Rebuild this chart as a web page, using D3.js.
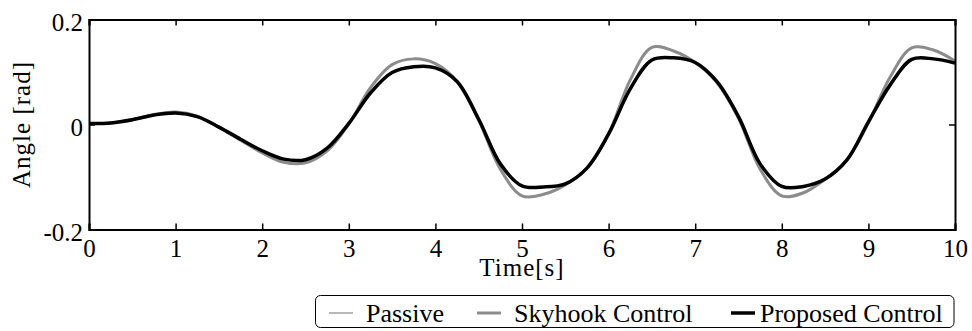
<!DOCTYPE html>
<html>
<head>
<meta charset="utf-8">
<script src="https://cdn.jsdelivr.net/npm/d3@7"></script>
<style>
  body { margin: 0; background: #fff; }
  svg text { font-family: "Liberation Serif", "Times New Roman", serif; fill: #000; }
</style>
</head>
<body>
<svg id="chart"></svg>
<script>
// time axis [s]
const time = [0, 0.25, 0.5, 0.75, 1, 1.25, 1.5, 1.75, 2, 2.25, 2.5, 2.75, 3, 3.25, 3.5, 3.75, 4,
  4.25, 4.5, 4.75, 5, 5.25, 5.5, 5.75, 6, 6.25, 6.5, 6.75, 7, 7.25, 7.5, 7.75, 8,
  8.25, 8.5, 8.75, 9, 9.25, 9.5, 9.75, 10]

// angle [rad]
const passive = [0.002, 0.003, 0.009, 0.019, 0.024, 0.016, -0.005, -0.030, -0.054, -0.072, -0.073,
  -0.050, 0.001, 0.070, 0.114, 0.125, 0.116, 0.082, 0.008, -0.085, -0.136, -0.133, -0.115,
  -0.083, -0.018, 0.085, 0.147, 0.140, 0.118, 0.080, 0.012, -0.085, -0.136, -0.130, -0.104,
  -0.068, 0.003, 0.090, 0.146, 0.142, 0.121]
const skyhook = [0.002, 0.003, 0.009, 0.019, 0.024, 0.016, -0.005, -0.030, -0.054, -0.072, -0.073,
  -0.050, 0.001, 0.070, 0.114, 0.125, 0.116, 0.082, 0.008, -0.085, -0.136, -0.133, -0.115,
  -0.083, -0.018, 0.085, 0.147, 0.140, 0.118, 0.080, 0.012, -0.085, -0.136, -0.130, -0.104,
  -0.068, 0.003, 0.090, 0.146, 0.142, 0.121]
const proposed = [0.002, 0.003, 0.009, 0.018, 0.022, 0.015, -0.005, -0.028, -0.050, -0.066, -0.067,
  -0.045, 0.002, 0.060, 0.099, 0.110, 0.108, 0.082, 0.010, -0.075, -0.117, -0.119, -0.113,
  -0.083, -0.018, 0.068, 0.123, 0.127, 0.118, 0.082, 0.015, -0.075, -0.118, -0.118, -0.104,
  -0.068, 0.005, 0.075, 0.124, 0.125, 0.117]

const xTicks = [0, 1, 2, 3, 4, 5, 6, 7, 8, 9, 10]
const yTicks = [-0.2, 0, 0.2]

const seriesNames = ['Passive', 'Skyhook Control', 'Proposed Control']
const seriesColors = ['#b8b8b8', '#8c8c8c', '#000000']
const seriesWidths = [2, 3, 3.5]

const width = 972, height = 331
const margin = { left: 89, right: 17, top: 19.5, bottom: 101.5 }
const fontSize = 25
const legendFont = 26

const svg = d3.select('#chart').attr('width', width).attr('height', height)

const x = d3.scaleLinear().domain([0, 10]).range([margin.left, width - margin.right])
const y = d3.scaleLinear().domain([-0.2, 0.2]).range([height - margin.bottom, margin.top])

const series = [passive, skyhook, proposed]

// curves
const line = d3.line()
  .x((d, i) => x(time[i]))
  .y(d => y(d))
  .curve(d3.curveCatmullRom.alpha(0.5))

const plot = svg.append('g').attr('class', 'plot')
series.forEach((s, k) => {
  plot.append('path')
    .datum(s)
    .attr('d', line)
    .attr('fill', 'none')
    .attr('stroke', seriesColors[k])
    .attr('stroke-width', seriesWidths[k])
    .attr('stroke-linejoin', 'round')
})

// axes, ticks inward on all sides
const tickLen = 6
const bottomAxis = d3.axisBottom(x).tickValues(xTicks).tickSize(-tickLen).tickPadding(9.5)
  .tickFormat(d3.format('d'))
const topAxis = d3.axisTop(x).tickValues(xTicks).tickSize(-tickLen).tickFormat('')
const leftAxis = d3.axisLeft(y).tickValues(yTicks).tickSize(-tickLen).tickPadding(6)
  .tickFormat(d => d === 0 ? '0' : (d < 0 ? '-' : '') + Math.abs(d).toFixed(1))
const rightAxis = d3.axisRight(y).tickValues(yTicks).tickSize(-tickLen).tickFormat('')

function styleAxis(g) {
  g.select('.domain').attr('stroke', '#000').attr('stroke-width', 2)
  g.selectAll('.tick line').attr('stroke', '#000').attr('stroke-width', 1.5)
  g.selectAll('.tick text').style('font-size', fontSize + 'px')
    .style('font-family', '"Liberation Serif", serif')
}

svg.append('g').attr('transform', `translate(0,${y(-0.2)})`).call(bottomAxis).call(styleAxis)
svg.append('g').attr('transform', `translate(0,${y(0.2)})`).call(topAxis).call(styleAxis)
svg.append('g').attr('transform', `translate(${x(0)},0)`).call(leftAxis).call(styleAxis)
  .selectAll('.tick text').attr('dy', '0.42em')
svg.append('g').attr('transform', `translate(${x(10)},0)`).call(rightAxis).call(styleAxis)

// axis titles
svg.append('text')
  .attr('x', (x(0) + x(10)) / 2)
  .attr('y', 276)
  .attr('text-anchor', 'middle')
  .style('font-size', fontSize + 'px')
  .style('letter-spacing', '1px')
  .text('Time[s]')

svg.append('text')
  .attr('transform', `translate(30,${(y(0.2) + y(-0.2)) / 2}) rotate(-90)`)
  .attr('text-anchor', 'middle')
  .style('font-size', fontSize + 'px')
  .style('letter-spacing', '1px')
  .text('Angle [rad]')

// legend
const legend = svg.append('g').attr('class', 'legend')
legend.append('rect')
  .attr('x', 315.5).attr('y', 295.5)
  .attr('width', 638.5).attr('height', 32)
  .attr('rx', 5)
  .attr('fill', '#fff').attr('stroke', '#000').attr('stroke-width', 1)

const legendLineX = [329, 477, 731]
const legendTextX = [366, 514, 760]
seriesNames.forEach((name, k) => {
  legend.append('line')
    .attr('x1', legendLineX[k]).attr('x2', legendLineX[k] + 24)
    .attr('y1', 313).attr('y2', 313)
    .attr('stroke', seriesColors[k])
    .attr('stroke-width', seriesWidths[k])
  legend.append('text')
    .attr('x', legendTextX[k])
    .attr('y', 322)
    .style('font-size', legendFont + 'px')
    .text(name)
})
</script>
</body>
</html>
